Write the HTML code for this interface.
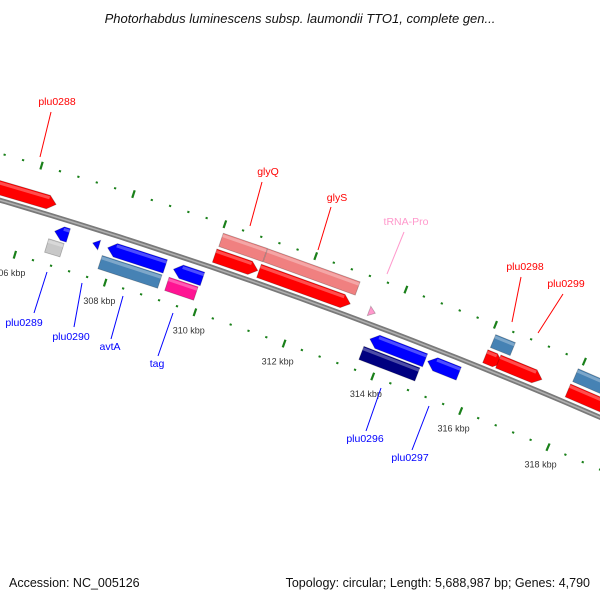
<!DOCTYPE html>
<html><head><meta charset="utf-8"><style>
body{margin:0;background:#fff}
svg{display:block;font-family:"Liberation Sans",sans-serif}
</style></head><body>
<svg id="map" width="600" height="600" viewBox="0 0 600 600">
<text x="300" y="23" text-anchor="middle" font-size="13" font-style="italic" fill="#111">Photorhabdus luminescens subsp. laumondii TTO1, complete gen...</text>
<text x="9" y="587" font-size="12.5" fill="#111">Accession: NC_005126</text>
<text x="590" y="587" text-anchor="end" font-size="12.5" fill="#111">Topology: circular; Length: 5,688,987 bp; Genes: 4,790</text>
<g id="ticks"></g>
<g id="backbone"></g>
<g id="genes"></g>
<g id="labels"></g>
</svg>
<script>
const geneNames=["plu0288","plu0289a","plu0289","plu0290","avtA-a","avtA","tag-a","tag","glyQ","glyS","glyQ-b","glyS-b","tRNA-Pro","plu0296","plu0296-b","plu0297","plu0298","plu0298-b","plu0299","plu0300-b","plu0300"];
const geneStarts=[305000,306660,306587,307496,307827,307766,309283,309248,310010,310990,310030,311010,313440,313663,313600,314967,316080,316049,316342,317940,317919];
const geneEnds=[306526,306960,306925,307640,309098,309090,309924,309891,310964,313020,311000,313052,313580,314907,314865,315668,316523,316438,317328,319500,319500];
const geneStrands=[1,-1,-1,-1,-1,-1,-1,-1,1,1,1,1,1,-1,-1,-1,1,1,1,1,1];
const geneRows=[1,1,2,1,1,2,1,2,1,1,2,2,1,1,2,1,2,1,1,2,1];
const geneColors=["#ff0000","#0000ff","#c8c8c8","#0000ff","#0000ff","#4682b4","#0000ff","#ff1493","#ff0000","#ff0000","#f08080","#f08080","#ff99cc","#0000ff","#000080","#0000ff","#4682b4","#ff0000","#ff0000","#4682b4","#ff0000"];
const tickMajor=[300000,302000,304000,306000,308000,310000,312000,314000,316000,318000,320000];
const tickLabels=["300 kbp","302 kbp","304 kbp","306 kbp","308 kbp","310 kbp","312 kbp","314 kbp","316 kbp","318 kbp","320 kbp"];
const minorStep=400;
const labelTexts=["plu0288","glyQ","glyS","tRNA-Pro","plu0298","plu0299","plu0289","plu0290","avtA","tag","plu0296","plu0297"];
const labelColors=["#ff0000","#ff0000","#ff0000","#ff99cc","#ff0000","#ff0000","#0000ff","#0000ff","#0000ff","#0000ff","#0000ff","#0000ff"];
const labelPos=[[57,105],[268,175],[337,201],[406,225],[525,270],[566,287],[24,326],[71,340],[110,350],[157,367],[365,442],[410,461]];
const leaderLines=[[51,112,40,157],[262,182,250,226],[331,207,318,250],[404,232,387,274],[521,277,512,322],[563,294,538,333],[47,272,34,313],[82,283,74,327],[123,296,111,339],[173,313,158,356],[381,388,366,431],[429,406,412,450]];

const CX=-1450.7, CY=5149, R=5157, PHI0=72.27, DEG_PER_BP=0.00053;
const NS="http://www.w3.org/2000/svg";
function pt(bp,r){const a=(PHI0-(bp-308000)*DEG_PER_BP)*Math.PI/180;return [CX+r*Math.cos(a),CY-r*Math.sin(a)];}
function mk(tag,attrs,parent){const e=document.createElementNS(NS,tag);for(const k in attrs)e.setAttribute(k,attrs[k]);parent.appendChild(e);return e;}

// backbone
const bb=document.getElementById('backbone');
{let d="";for(let b=298000;b<=322000;b+=500){const p=pt(b,R);d+=(d?"L":"M")+p[0].toFixed(1)+","+p[1].toFixed(1);}
const e1=mk('path',{d:d,fill:"none",stroke:"#7a7a7a","stroke-width":5},bb);


const e2=mk('path',{d:d,fill:"none",stroke:"#b0b0b0","stroke-width":1.5},bb);

}

// ticks
const tg=document.getElementById('ticks');
const rOut=R+45, rIn=R-48;
for(let b=298000;b<=322000;b+=minorStep){
  const major=(b%2000===0);
  [rOut,rIn].forEach(function(r){
    const len=major?4:1;
    const a=pt(b,r-len),c=pt(b,r+len);
    const ln=mk('line',{x1:a[0],y1:a[1],x2:c[0],y2:c[1],stroke:"#1a801a","stroke-width":major?2.2:2.2},tg);
    
    
  });
}
tickMajor.forEach(function(b,i){
  const p=pt(b,rIn-19);
  const t=mk('text',{x:p[0],y:p[1]+3,"text-anchor":"middle","font-size":"9","fill":"#333"},tg);
  t.textContent=tickLabels[i];
  
  
});

// genes
const gg=document.getElementById('genes');
const ARROW=170;
geneNames.forEach(function(n,i){
  const s=geneStarts[i],e=geneEnds[i],str=geneStrands[i],row=geneRows[i];
  const rc=str>0?(row===1?R+12:R+29):(row===1?R-14:R-30);
  const h=(n==="tRNA-Pro"||n==="plu0290")?10:14;
  const ro=rc+h/2, ri=rc-h/2;
  const arrow=(row===1);
  let pts=[];
  if(arrow && str>0){
    const bend=Math.max(s,e-ARROW);
    pts=[pt(s,ro),pt(bend,ro),pt(e,rc),pt(bend,ri),pt(s,ri)];
  }else if(arrow && str<0){
    const bend=Math.min(e,s+ARROW);
    pts=[pt(s,rc),pt(bend,ro),pt(e,ro),pt(e,ri),pt(bend,ri)];
  }else{
    pts=[pt(s,ro),pt(e,ro),pt(e,ri),pt(s,ri)];
  }
  const poly=mk('polygon',{points:pts.map(p=>p[0].toFixed(1)+","+p[1].toFixed(1)).join(" "),fill:geneColors[i],stroke:"rgba(0,0,0,0.25)","stroke-width":0.8},gg);
  
  
  // highlight strip
  const hs=[pt(s+(arrow&&str<0?ARROW:0),ro-1),pt(e-(arrow&&str>0?ARROW:0),ro-1),pt(e-(arrow&&str>0?ARROW:0),ro-4),pt(s+(arrow&&str<0?ARROW:0),ro-4)];
  const hl=mk('polygon',{points:hs.map(p=>p[0].toFixed(1)+","+p[1].toFixed(1)).join(" "),fill:"rgba(255,255,255,0.3)"},gg);
  
  
});

// labels
const lg=document.getElementById('labels');
labelTexts.forEach(function(t,i){
  const l=leaderLines[i];
  const ln=mk('line',{x1:l[0],y1:l[1],x2:l[2],y2:l[3],stroke:labelColors[i],"stroke-width":1},lg);
  
  
  const tx=mk('text',{x:labelPos[i][0],y:labelPos[i][1],"text-anchor":"middle","font-size":"10.5",fill:labelColors[i]},lg);
  tx.textContent=t;
  
  
});
</script>
</body></html>
